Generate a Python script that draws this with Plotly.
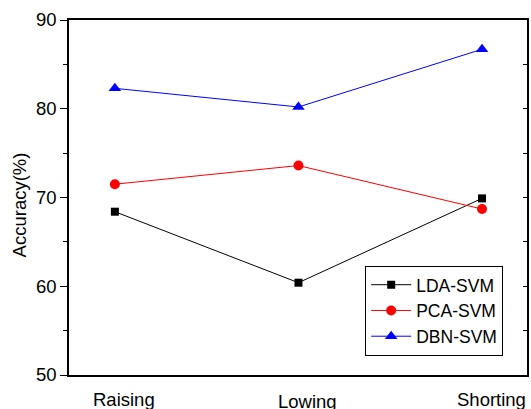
import plotly.graph_objects as go

categories = ["Raising", "Lowing", "Shorting"]
lda_svm = [68.4, 60.4, 69.9]
pca_svm = [71.5, 73.6, 68.7]
dbn_svm = [82.3, 80.2, 86.7]
y_ticks = [50, 60, 70, 80, 90]

FONT = "Liberation Sans, Arial, sans-serif"
FS = 18.5

fig = go.Figure()
fig.add_trace(go.Scatter(x=categories, y=lda_svm, name="LDA-SVM", mode="lines+markers",
                         line=dict(color="black", width=1),
                         marker=dict(symbol="square", size=8, color="black")))
fig.add_trace(go.Scatter(x=categories, y=pca_svm, name="PCA-SVM", mode="lines+markers",
                         line=dict(color="#ff0000", width=1),
                         marker=dict(symbol="circle", size=10, color="#ff0000")))
fig.add_trace(go.Scatter(x=categories, y=dbn_svm, name="DBN-SVM", mode="lines+markers",
                         line=dict(color="#0000ff", width=1),
                         marker=dict(symbol="triangle-up", size=11, color="#0000ff")))
# invisible trace on right axis for inward ticks
fig.add_trace(go.Scatter(x=categories, y=dbn_svm, yaxis="y2", showlegend=False,
                         mode="lines", line=dict(width=0), hoverinfo="skip", opacity=0))

label_yshift = {"Raising": -24, "Lowing": -26, "Shorting": -24}
annotations = []
for c in categories:
    annotations.append(dict(x=c, y=0, xref="x", yref="paper", text=c, showarrow=False,
                            xanchor="center", yanchor="middle", xshift=9, yshift=label_yshift[c],
                            font=dict(family=FONT, size=FS, color="black")))
annotations.append(dict(x=-0.109, y=0.478, xref="paper", yref="paper", text="Accuracy(%)",
                        showarrow=False, textangle=-90, xanchor="center", yanchor="middle",
                        font=dict(family=FONT, size=FS, color="black")))

fig.update_layout(
    width=531, height=409,
    margin=dict(l=69, r=2, t=20, b=34),
    paper_bgcolor="white", plot_bgcolor="white",
    font=dict(family=FONT, size=FS, color="black"),
    xaxis=dict(range=[-0.25, 2.245], showticklabels=False, ticks="", showgrid=False,
               zeroline=False, showline=True, linecolor="black", linewidth=1.5, mirror=True),
    yaxis=dict(range=[50, 90], tickvals=y_ticks, ticks="outside", ticklen=7, tickwidth=1.2,
               tickcolor="black", showgrid=False, zeroline=False, showline=True,
               linecolor="black", linewidth=1.5, mirror=True,
               tickfont=dict(family=FONT, size=FS, color="black"),
               minor=dict(ticks="outside", ticklen=4, dtick=5, tickcolor="black", tickwidth=1.2,
                          showgrid=False)),
    yaxis2=dict(range=[50, 90], overlaying="y", side="right", dtick=5, ticks="inside",
                ticklen=4, tickwidth=1.2, tickcolor="black", showticklabels=False,
                showgrid=False, zeroline=False, showline=False),
    legend=dict(x=0.948, y=0.054, xanchor="right", yanchor="bottom",
                bordercolor="black", borderwidth=1, bgcolor="white",
                font=dict(family=FONT, size=17.5, color="black"),
                itemwidth=40, tracegroupgap=0),
    annotations=annotations,
    showlegend=True,
)

fig.write_html("out.html", config={"displayModeBar": False},
               post_script="document.body.style.margin='0';document.body.style.overflow='hidden';")
